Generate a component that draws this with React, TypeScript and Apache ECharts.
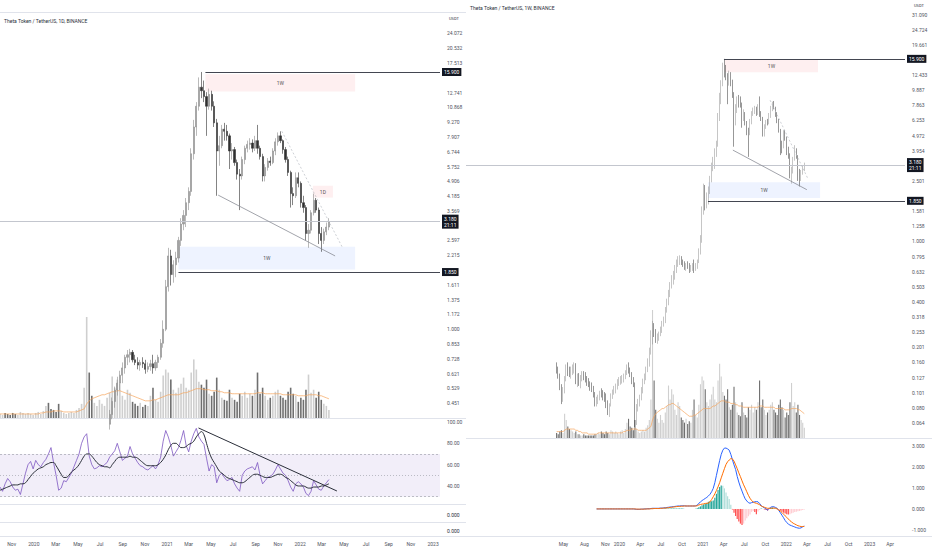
import React, { useEffect, useRef } from "react";
import * as echarts from "echarts";

// ---------- DATA ----------
const FIRST_WEEK = "2019-04-01";

// weekly candles [open, high, low, close]
const priceOHLC: number[][] = [
  // 2019
  [0.15, 0.16, 0.135, 0.14], [0.14, 0.15, 0.125, 0.128], [0.128, 0.135, 0.105, 0.11], [0.11, 0.115, 0.085, 0.092],
  [0.092, 0.11, 0.088, 0.105], [0.105, 0.13, 0.1, 0.125], [0.125, 0.155, 0.12, 0.145], [0.145, 0.16, 0.13, 0.138], [0.138, 0.15, 0.128, 0.135],
  [0.135, 0.15, 0.125, 0.14], [0.14, 0.155, 0.132, 0.145], [0.145, 0.16, 0.135, 0.15], [0.15, 0.158, 0.115, 0.12],
  [0.12, 0.135, 0.11, 0.128], [0.128, 0.136, 0.112, 0.118], [0.118, 0.132, 0.108, 0.125], [0.125, 0.14, 0.12, 0.132], [0.132, 0.14, 0.122, 0.128],
  [0.128, 0.138, 0.118, 0.124], [0.124, 0.13, 0.112, 0.12], [0.12, 0.126, 0.11, 0.114], [0.114, 0.12, 0.104, 0.11],
  [0.11, 0.118, 0.102, 0.106], [0.106, 0.112, 0.094, 0.098], [0.098, 0.102, 0.082, 0.087], [0.087, 0.095, 0.082, 0.09],
  [0.09, 0.098, 0.085, 0.093], [0.093, 0.104, 0.09, 0.1], [0.1, 0.108, 0.094, 0.098], [0.098, 0.105, 0.09, 0.096], [0.096, 0.102, 0.088, 0.094],
  [0.094, 0.1, 0.08, 0.085], [0.085, 0.09, 0.072, 0.078], [0.078, 0.086, 0.07, 0.084], [0.084, 0.1, 0.082, 0.098],
  [0.098, 0.106, 0.092, 0.102], [0.102, 0.112, 0.098, 0.108], [0.108, 0.116, 0.1, 0.112], [0.112, 0.124, 0.106, 0.118], [0.118, 0.128, 0.112, 0.12],
  // 2020
  [0.12, 0.13, 0.114, 0.122], [0.122, 0.132, 0.116, 0.125], [0.125, 0.135, 0.118, 0.128], [0.128, 0.142, 0.124, 0.138],
  [0.138, 0.155, 0.132, 0.148], [0.148, 0.16, 0.135, 0.14], [0.14, 0.148, 0.128, 0.132], [0.132, 0.138, 0.115, 0.12],
  [0.12, 0.128, 0.11, 0.115], [0.115, 0.118, 0.06, 0.068], [0.068, 0.085, 0.062, 0.08], [0.08, 0.092, 0.076, 0.085], [0.085, 0.098, 0.082, 0.092],
  [0.092, 0.11, 0.09, 0.105], [0.105, 0.125, 0.1, 0.12], [0.12, 0.135, 0.115, 0.128], [0.128, 0.15, 0.122, 0.145],
  [0.145, 0.17, 0.138, 0.16], [0.16, 0.2, 0.15, 0.19], [0.19, 0.26, 0.18, 0.235], [0.235, 0.3, 0.21, 0.265],
  [0.265, 0.29, 0.235, 0.25], [0.25, 0.265, 0.215, 0.228], [0.228, 0.248, 0.212, 0.235], [0.235, 0.255, 0.222, 0.245], [0.245, 0.275, 0.238, 0.26],
  [0.26, 0.3, 0.25, 0.29], [0.29, 0.32, 0.275, 0.3], [0.3, 0.37, 0.29, 0.36], [0.36, 0.42, 0.34, 0.4],
  [0.4, 0.48, 0.38, 0.46], [0.46, 0.54, 0.43, 0.52], [0.52, 0.6, 0.49, 0.56], [0.56, 0.64, 0.52, 0.61], [0.61, 0.7, 0.56, 0.66],
  [0.66, 0.76, 0.62, 0.74], [0.74, 0.8, 0.68, 0.76], [0.76, 0.81, 0.7, 0.78], [0.78, 0.8, 0.7, 0.72],
  [0.72, 0.76, 0.68, 0.7], [0.7, 0.74, 0.65, 0.68], [0.68, 0.72, 0.64, 0.7], [0.7, 0.74, 0.66, 0.69],
  [0.69, 0.72, 0.62, 0.65], [0.65, 0.7, 0.63, 0.67], [0.67, 0.72, 0.64, 0.69], [0.69, 0.76, 0.62, 0.66], [0.66, 0.72, 0.64, 0.7],
  [0.7, 0.76, 0.66, 0.74], [0.74, 0.9, 0.72, 0.86], [0.86, 1.1, 0.82, 1.0], [1.0, 1.7, 0.98, 1.58],
  // 2021
  [1.58, 2.4, 1.5, 2.2], [2.2, 2.35, 1.6, 1.8], [1.8, 2.1, 1.65, 2.0], [2.0, 2.3, 1.75, 2.15],
  [2.15, 2.7, 2.05, 2.6], [2.6, 3.3, 2.45, 3.1], [3.1, 3.6, 2.9, 3.4], [3.4, 4.1, 3.0, 3.9],
  [3.9, 4.6, 3.6, 4.4], [4.4, 7.0, 4.2, 6.6], [6.6, 9.5, 6.2, 8.8], [8.8, 11.5, 8.0, 11.0], [11.0, 15.0, 10.5, 13.5],
  [13.5, 15.9, 12.0, 13.0], [13.0, 14.5, 11.5, 12.2], [12.2, 12.8, 8.0, 11.0], [11.0, 13.3, 10.6, 12.5],
  [12.5, 13.0, 10.5, 11.0], [11.0, 11.6, 8.8, 9.2], [9.2, 9.6, 4.2, 6.8], [6.8, 8.0, 5.8, 7.2],
  [7.2, 9.0, 7.0, 8.6], [8.6, 9.2, 7.6, 8.4], [8.4, 9.0, 7.6, 8.0], [8.0, 8.2, 5.6, 6.8], [6.8, 7.4, 6.2, 6.9],
  [6.9, 7.1, 5.8, 6.0], [6.0, 6.2, 5.0, 5.3], [5.3, 5.6, 3.6, 5.2], [5.2, 6.4, 5.0, 6.2],
  [6.2, 7.2, 5.9, 7.0], [7.0, 7.6, 6.7, 7.3], [7.3, 7.8, 6.9, 7.4], [7.4, 7.7, 6.7, 7.0], [7.0, 8.0, 6.8, 7.6],
  [7.6, 9.0, 6.6, 7.0], [7.0, 7.2, 6.2, 6.4], [6.4, 6.6, 4.9, 5.2], [5.2, 5.9, 4.9, 5.7],
  [5.7, 6.3, 5.5, 6.1], [6.1, 6.4, 5.8, 6.0], [6.0, 7.0, 5.9, 6.8], [6.8, 7.8, 6.5, 7.5],
  [7.5, 8.3, 7.2, 8.0], [8.0, 8.4, 7.4, 7.6], [7.6, 7.7, 6.6, 6.9], [6.9, 7.1, 6.0, 6.2], [6.2, 6.4, 5.2, 5.4],
  [5.4, 5.5, 3.7, 4.3], [4.3, 4.6, 3.8, 4.2], [4.2, 5.4, 4.1, 5.1], [5.1, 5.4, 4.6, 4.8],
  // 2022
  [4.8, 4.9, 3.7, 3.9], [3.9, 4.2, 3.5, 3.7], [3.7, 3.8, 2.6, 2.8], [2.8, 3.1, 2.4, 2.9],
  [2.9, 3.6, 2.8, 3.5], [3.5, 4.3, 3.4, 4.0], [4.0, 4.1, 3.5, 3.6], [3.6, 3.7, 2.5, 2.8],
  [2.8, 3.0, 2.3, 2.6], [2.6, 2.95, 2.5, 2.85], [2.85, 3.15, 2.75, 3.0], [3.0, 3.3, 2.9, 3.18],
];

// weekly volume (millions, relative)
const volumes: number[] = [
  4, 3, 5, 6, 4, 19, 14, 9, 7, 6, 5, 4, 5, 3, 3, 2, 2, 3, 2, 2, 2, 2, 2, 2, 3, 3,
  4, 3, 5, 4, 3, 5, 4, 3, 6, 5, 4, 5, 4, 3, 5, 6, 4, 7, 12, 15, 9, 8, 6, 14, 7, 5, 4, 5, 6, 5, 8, 10, 14,
  30, 100, 45, 22, 15, 12, 18, 14, 12, 20, 25, 41, 30, 38, 34, 22, 18, 28, 25, 16, 14, 12, 15, 11, 13, 12, 22, 30, 18, 16,
  26, 42, 48, 45, 38, 28, 25, 30, 34, 40, 30, 28, 45, 58, 48, 36, 33, 30, 38, 24, 22, 26, 40, 28, 20, 18, 17, 28, 20, 18,
  16, 24, 22, 26, 20, 24, 22, 28, 45, 24, 30, 22, 18, 20, 22, 26, 28, 22, 20, 18, 26, 30, 24, 22, 16, 20, 18, 28, 43, 25,
  28, 20, 26, 18, 14, 12, 8,
];

const volumeMA: number[] = [
  5, 5, 5, 5, 5, 6, 7, 7, 7, 7, 7, 7, 6, 6, 5, 5, 4, 4, 4, 4, 3, 3, 3, 3, 3, 3,
  4, 4, 4, 4, 4, 4, 4, 4, 4, 4, 4, 4, 4, 4, 4, 4, 5, 5, 6, 6, 6, 7, 7, 7, 7, 6, 6, 6, 6, 6, 6, 7, 8,
  9, 14, 17, 19, 20, 21, 22, 23, 23, 24, 25, 26, 26, 27, 27, 26, 25, 24, 23, 22, 21, 20, 19, 18, 17, 17, 17, 18, 18, 19,
  20, 21, 22, 23, 23, 23, 23, 23, 24, 25, 25, 26, 27, 28, 29, 29, 29, 28, 28, 28, 27, 27, 27, 26, 26, 25, 25, 25, 24, 24,
  24, 24, 24, 24, 24, 24, 24, 24, 25, 25, 25, 24, 24, 24, 24, 24, 24, 24, 23, 23, 23, 23, 23, 23, 22, 22, 22, 22, 23, 23,
  23, 23, 22, 22, 21, 20, 19,
];

// RSI (left chart), weekly from RSI_START
const RSI_START = "2019-09-30";
const rsiValues: number[] = [
  39, 35, 42, 47, 44, 39, 36, 37, 32, 42,
  52, 60, 63, 56, 64, 60, 58, 62, 65, 70,
  76, 62, 50, 36, 38, 45, 44, 48, 52, 58,
  64, 70, 80, 86, 89, 68, 60, 56, 57, 59,
  58, 60, 62, 67, 70, 73, 80, 72, 64, 66,
  68, 77, 70, 66, 62, 59, 58, 56, 55, 57,
  59, 56, 60, 67, 82, 92, 86, 78, 68, 72,
  76, 83, 92, 78, 72, 82, 89, 94, 86, 82,
  79, 66, 54, 60, 58, 43, 50, 52, 48, 45,
  46, 48, 42, 38, 35, 50, 54, 56, 57, 58,
  55, 62, 50, 42, 45, 48, 49, 51, 55, 60,
  56, 52, 50, 45, 39, 35, 42, 44, 42, 39,
  33, 31, 35, 45, 41, 37, 36, 40, 43, 46,
];
const rsiMA: number[] = [
  36, 37, 38, 39, 40, 41, 41, 41, 42, 42,
  43, 46, 49, 52, 54, 56, 57, 58, 60, 61,
  62, 62, 59, 55, 51, 48, 48, 50, 53, 55,
  57, 60, 64, 68, 70, 70, 68, 65, 62, 60,
  59, 58, 58, 57, 60, 63, 66, 67, 67, 67,
  67, 68, 67, 67, 66, 64, 62, 60, 59, 59,
  59, 59, 60, 62, 65, 69, 74, 78, 80, 80,
  78, 76, 76, 77, 79, 80, 82, 86, 89, 91,
  88, 80, 72, 66, 62, 58, 54, 52, 50, 48,
  47, 46, 45, 44, 43, 43, 44, 46, 48, 50,
  51, 51, 50, 49, 48, 48, 48, 49, 50, 51,
  51, 50, 48, 47, 45, 43, 41, 40, 40, 40,
  39, 38, 38, 39, 39, 39, 40, 40, 41, 42,
];

// MACD (right chart), weekly from MACD_START
const MACD_START = "2019-09-23";
const macdLine: number[] = [
  0, 0, 0, 0, 0, 0, 0, 0, 0, 0, 0, 0, 0, 0, 0, 0, 0, 0, 0, 0, 0, 0, 0, 0,
  -0.01, -0.02, -0.02, -0.02, -0.01, -0.01, 0, 0, 0.01, 0.01, 0.02, 0.03, 0.03, 0.03, 0.03,
  0.03, 0.04, 0.04, 0.05, 0.06, 0.07, 0.08, 0.09, 0.1, 0.11, 0.12, 0.13, 0.14, 0.14, 0.15, 0.15, 0.15, 0.14, 0.14, 0.14, 0.14, 0.14, 0.14, 0.15, 0.18,
  0.27, 0.33, 0.4, 0.45, 0.5, 0.55, 0.62, 0.7, 0.82, 0.98, 1.25, 1.6, 1.95, 2.3, 2.6, 2.8, 2.9, 2.9, 2.86, 2.8,
  2.6, 2.35, 2.1, 1.88, 1.55, 1.28, 1.05, 0.85, 0.65, 0.48, 0.38, 0.3, 0.27, 0.3, 0.32, 0.34, 0.35, 0.34, 0.26, 0.16,
  0.1, 0.05, 0, -0.05, 0.02, 0.08, 0.11, 0.1, 0.07, 0.03, -0.07, -0.18, -0.3, -0.42, -0.55, -0.65, -0.72, -0.77, -0.8, -0.83,
  -0.86, -0.89, -0.91, -0.92, -0.9, -0.85, -0.82,
];
const signalLine: number[] = [
  0, 0, 0, 0, 0, 0, 0, 0, 0, 0, 0, 0, 0, 0, 0, 0, 0, 0, 0, 0, 0, 0, 0, 0,
  0, -0.01, -0.01, -0.01, -0.01, -0.01, -0.01, 0, 0, 0, 0.01, 0.01, 0.02, 0.02, 0.02,
  0.02, 0.03, 0.03, 0.04, 0.04, 0.05, 0.06, 0.07, 0.08, 0.09, 0.1, 0.11, 0.12, 0.12, 0.13, 0.13, 0.14, 0.14, 0.14, 0.14, 0.14, 0.14, 0.14, 0.14, 0.15,
  0.19, 0.21, 0.23, 0.24, 0.26, 0.27, 0.28, 0.34, 0.45, 0.58, 0.72, 0.88, 1.05, 1.25, 1.48, 1.7, 1.92, 2.12, 2.25, 2.33,
  2.4, 2.38, 2.28, 2.1, 1.92, 1.72, 1.54, 1.34, 1.15, 0.99, 0.82, 0.65, 0.51, 0.4, 0.33, 0.29, 0.27, 0.24, 0.2, 0.14,
  0.11, 0.08, 0.05, 0.03, 0.03, 0.03, 0.04, 0.04, 0.03, 0, -0.05, -0.1, -0.17, -0.25, -0.33, -0.4, -0.48, -0.56, -0.62, -0.68,
  -0.72, -0.76, -0.8, -0.82, -0.84, -0.84, -0.83,
];
const macdHist: number[] = [
  0, 0, 0, 0, 0, 0, 0, 0, 0, 0, 0, 0, 0, 0, 0, 0, 0, 0, 0, 0, 0, 0, 0, 0,
  0, -0.01, -0.01, -0.01, 0, 0, 0.01, 0, 0.01, 0.01, 0.01, 0.02, 0.01, 0.01, 0.01,
  0.01, 0.01, 0.01, 0.01, 0.02, 0.02, 0.02, 0.02, 0.02, 0.02, 0.02, 0.02, 0.02, 0.02, 0.02, 0.02, 0.01, 0, 0, 0, 0, 0, 0, 0.01, 0.03,
  0.08, 0.12, 0.17, 0.21, 0.24, 0.28, 0.34, 0.36, 0.37, 0.4, 0.53, 0.72, 0.9, 1.05, 1.12, 1.1, 0.98, 0.78, 0.61, 0.47,
  0.2, -0.03, -0.18, -0.34, -0.48, -0.6, -0.7, -0.76, -0.7, -0.55, -0.44, -0.35, -0.26, -0.14, -0.1, -0.15, -0.25, -0.12, -0.05, 0.02,
  0.01, -0.03, -0.05, -0.08, -0.01, 0.05, 0.07, 0.06, 0.04, 0.03, -0.02, -0.08, -0.13, -0.18, -0.22, -0.25, -0.26, -0.25, -0.21, -0.18,
  -0.15, -0.13, -0.11, -0.1, -0.08, -0.05, -0.03,
];

// tick labels
const leftTickDates = [
  "2019-11-01", "2020-01-01", "2020-03-01", "2020-05-01", "2020-07-01", "2020-09-01", "2020-11-01",
  "2021-01-01", "2021-03-01", "2021-05-01", "2021-07-01", "2021-09-01", "2021-11-01",
  "2022-01-01", "2022-03-01", "2022-05-01", "2022-07-01", "2022-09-01", "2022-11-01", "2023-01-01",
];
const rightTickDates = [
  "2019-05-01", "2019-08-01", "2019-11-01", "2020-01-01", "2020-04-01", "2020-07-01", "2020-10-01",
  "2021-01-01", "2021-04-01", "2021-07-01", "2021-10-01", "2022-01-01", "2022-04-01", "2022-07-01",
  "2022-10-01", "2023-01-01", "2023-04-01",
];
const MONTHS = ["Jan", "Feb", "Mar", "Apr", "May", "Jun", "Jul", "Aug", "Sep", "Oct", "Nov", "Dec"];
const rsiTicks = [100, 80, 60, 40];
const macdTicks = [3, 2, 1, 0, -1];

// price levels / drawings
const ATH = 15.9;
const LAST = 3.18;
const SUPPORT = 1.85;
const COUNTDOWN = "21:11";
const leftZones = [
  { from: "2021-04-16", to: "2022-06-01", low: 12.9, high: 15.5, kind: "sell", text: "1W" },
  { from: "2021-02-01", to: "2022-06-01", low: 1.9, high: 2.43, kind: "buy", text: "1W" },
  { from: "2022-02-05", to: "2022-04-01", low: 4.12, high: 4.68, kind: "sell", text: "1D" },
];
const rightZones = [
  { from: "2021-04-07", to: "2022-05-20", low: 13.0, high: 15.6, kind: "sell", text: "1W" },
  { from: "2021-01-23", to: "2022-05-29", low: 1.93, high: 2.45, kind: "buy", text: "1W" },
];
const leftLevels = { athFrom: "2021-04-16", supportFrom: "2021-02-01" };
const rightLevels = { athFrom: "2021-04-03", supportFrom: "2021-01-23" };
const leftWedge = {
  lower: [["2021-05-21", 4.23], ["2022-04-07", 2.2]],
  upper: [["2021-11-12", 8.4], ["2022-04-26", 2.43]],
};
const rightWedge = {
  lower: [["2021-05-12", 3.99], ["2022-04-01", 2.19]],
  upper: [["2021-10-22", 8.5], ["2022-04-05", 2.6]],
};
const rsiTrend = [["2021-03-28", 94.4], ["2022-04-12", 35.3]];

// ---------- HELPERS ----------
const DAY = 86400000;
const WEEK = 7 * DAY;
const ts = (s: string) => Date.parse(s + "T00:00:00Z");
const TXT = "#50535e";
const FONT = "Roboto, 'Noto Sans', sans-serif";
const UP = "#a3a3a3";
const DOWN = "#303030";
const VOL_UP = "#cfcfcf";
const VOL_DOWN = "#6f6f6f";
const PINK = "rgba(242,54,69,0.08)";
const BLUE = "rgba(41,98,255,0.08)";
const SEP = "#e0e3eb";

const L_MIN = ts("2019-09-30");
const L_MAX = ts("2023-01-20");
const R_MIN = ts("2018-02-28");
const R_MAX = ts("2023-06-05");

const L_BASE = 1.1724;
const L_MIN_EXP = -6;
const L_MAXV = 29.98;
const R_BASE = 1.2575;
const R_MIN_EXP = -13;
const R_MAXV = 38.79;

const fmtMonth = (v: number) => {
  const d = new Date(v);
  const m = d.getUTCMonth();
  return m === 0 ? String(d.getUTCFullYear()) : MONTHS[m];
};

function buildOption() {
  const t0 = ts(FIRST_WEEK);
  const weekTs = priceOHLC.map((_, k) => t0 + k * WEEK);
  const candles = priceOHLC.map(([o, h, l, c], k) => [weekTs[k], o, c, l, h]);
  const vol = volumes.map((v, k) => ({
    value: [weekTs[k], v],
    itemStyle: { color: priceOHLC[k] && priceOHLC[k][3] >= priceOHLC[k][0] ? VOL_UP : VOL_DOWN },
  }));
  const volMA = volumeMA.map((v, k) => [weekTs[k], v]);
  const rT = ts(RSI_START);
  const rsi = rsiValues.map((v, k) => [rT + k * WEEK, v]);
  const rsiM = rsiMA.map((v, k) => [rT + k * WEEK, v]);
  const mT = ts(MACD_START);
  const macd = macdLine.map((v, k) => [mT + k * WEEK, v]);
  const sig = signalLine.map((v, k) => [mT + k * WEEK, v]);
  const hist = macdHist.map((v, k) => {
    const prev = k > 0 ? macdHist[k - 1] : 0;
    const color = v >= 0 ? (v >= prev ? "#26a69a" : "#b2dfdb") : v <= prev ? "#ff5252" : "#ffcdd2";
    return { value: [mT + k * WEEK, v], itemStyle: { color } };
  });

  const tag = (text: string) => ({
    show: true,
    position: "end",
    formatter: text,
    color: "#fff",
    backgroundColor: "#131722",
    padding: [1, 2, 1, 2],
    fontSize: 5,
    fontFamily: FONT,
    distance: 2,
    lineHeight: 6,
  });

  const priceMarks = (zones: any[], lv: any, wedge: any, minT: number, maxT: number) => ({
    markArea: {
      silent: true,
      data: zones.map((z) => [
        {
          coord: [ts(z.from), z.low],
          itemStyle: { color: z.kind === "sell" ? PINK : BLUE },
          label: { show: true, position: "inside", formatter: z.text, fontSize: 5, color: "#555", fontFamily: FONT },
        },
        { coord: [ts(z.to), z.high] },
      ]),
    },
    markLine: {
      silent: true,
      symbol: ["none", "none"],
      data: [
        [
          { coord: [ts(lv.athFrom), ATH], lineStyle: { color: "#434651", width: 1, type: "solid" }, label: tag(ATH.toFixed(3)) },
          { coord: [maxT, ATH] },
        ],
        [
          { coord: [minT, LAST], lineStyle: { color: "#c3c6ce", width: 1, type: "solid" }, label: tag(LAST.toFixed(3) + "\n" + COUNTDOWN) },
          { coord: [maxT, LAST] },
        ],
        [
          { coord: [ts(lv.supportFrom), SUPPORT], lineStyle: { color: "#434651", width: 1, type: "solid" }, label: tag(SUPPORT.toFixed(3)) },
          { coord: [maxT, SUPPORT] },
        ],
        [
          { coord: [ts(wedge.lower[0][0]), wedge.lower[0][1]], lineStyle: { color: "#8a8d96", width: 0.8, type: "solid" }, label: { show: false } },
          { coord: [ts(wedge.lower[1][0]), wedge.lower[1][1]] },
        ],
        [
          { coord: [ts(wedge.upper[0][0]), wedge.upper[0][1]], lineStyle: { color: "#b8bbc3", width: 0.7, type: [2, 2] }, label: { show: false } },
          { coord: [ts(wedge.upper[1][0]), wedge.upper[1][1]] },
        ],
      ],
    },
  });

  const hiddenAxis = { axisLine: { show: false }, axisTick: { show: false }, splitLine: { show: false }, axisLabel: { show: false } };
  const timeAxis = (gridIndex: number, min: number, max: number, ticks?: string[]) => ({
    type: "value",
    gridIndex,
    min,
    max,
    axisLine: { show: false },
    axisTick: { show: false },
    splitLine: { show: false },
    axisPointer: { show: false },
    axisLabel: ticks
      ? {
          show: true,
          customValues: ticks.map(ts),
          formatter: fmtMonth,
          fontSize: 5,
          color: TXT,
          fontFamily: FONT,
          margin: 5,
          hideOverlap: false,
          showMinLabel: true,
          showMaxLabel: true,
        }
      : { show: false },
  });
  // labels hidden where a price tag sits on the axis (as TradingView does)
  const logAxis = (gridIndex: number, base: number, minExp: number, maxV: number, tol: number, topCut: number) => ({
    type: "log",
    gridIndex,
    position: "right",
    logBase: base,
    min: Math.pow(base, minExp),
    max: maxV,
    interval: 1,
    axisLine: { show: false },
    axisTick: { show: false },
    splitLine: { show: false },
    axisLabel: {
      fontSize: 5,
      color: TXT,
      fontFamily: FONT,
      margin: 7,
      showMinLabel: false,
      showMaxLabel: false,
      formatter: (v: number) => {
        if (v > topCut) return "";
        const lv = Math.log(v);
        if (Math.abs(lv - Math.log(ATH)) < tol) return "";
        if (Math.abs(lv - Math.log(SUPPORT)) < tol) return "";
        const d = lv - Math.log(LAST);
        if (d < tol && d > -tol * 1.5) return "";
        return v.toFixed(3);
      },
    },
  });

  const sepLines = [
    [0, 12.5, 466, 12.5],
    [0, 418.5, 466, 418.5],
    [0, 504.5, 466, 504.5],
    [0, 522.5, 466, 522.5],
    [0, 536.5, 466, 536.5],
    [466, 438.5, 932, 438.5],
    [466, 536.5, 932, 536.5],
  ];
  const texts = [
    { x: 4, y: 18, text: "Theta Token / TetherUS, 1D, BINANCE", size: 5 },
    { x: 470, y: 5, text: "Theta Token / TetherUS, 1W, BINANCE", size: 5 },
    { x: 449, y: 16, text: "USDT", size: 4 },
    { x: 914, y: 3, text: "USDT", size: 4 },
    { x: 447, y: 512, text: "0.000", size: 5 },
    { x: 447, y: 528, text: "0.000", size: 5 },
  ];

  return {
    animation: false,
    backgroundColor: "#ffffff",
    textStyle: { fontFamily: FONT },
    grid: [
      { left: 0, top: 13, width: 440, height: 405 },
      { left: 0, top: 317, width: 440, height: 101 },
      { left: 0, top: 419, width: 440, height: 85 },
      { left: 0, top: 504, width: 440, height: 32 },
      { left: 466, top: 0, width: 439, height: 438 },
      { left: 466, top: 310, width: 439, height: 128 },
      { left: 466, top: 438, width: 439, height: 98 },
    ],
    xAxis: [
      timeAxis(0, L_MIN, L_MAX),
      timeAxis(1, L_MIN, L_MAX),
      timeAxis(2, L_MIN, L_MAX),
      timeAxis(3, L_MIN, L_MAX, leftTickDates),
      timeAxis(4, R_MIN, R_MAX),
      timeAxis(5, R_MIN, R_MAX),
      timeAxis(6, R_MIN, R_MAX, rightTickDates),
    ],
    yAxis: [
      logAxis(0, L_BASE, L_MIN_EXP, L_MAXV, 0.085, 26),
      { type: "value", gridIndex: 1, min: 0, max: 100, ...hiddenAxis },
      {
        type: "value",
        gridIndex: 2,
        position: "right",
        min: 23.1,
        max: 102.8,
        axisLine: { show: false },
        axisTick: { show: false },
        splitLine: { show: false },
        axisLabel: { customValues: rsiTicks, formatter: (v: number) => v.toFixed(2), fontSize: 5, color: TXT, margin: 7, fontFamily: FONT },
      },
      { type: "value", gridIndex: 3, min: 0, max: 1, ...hiddenAxis },
      logAxis(4, R_BASE, R_MIN_EXP, R_MAXV, 0.12, 100),
      { type: "value", gridIndex: 5, min: 0, max: 100, ...hiddenAxis },
      {
        type: "value",
        gridIndex: 6,
        position: "right",
        min: -1.29,
        max: 3.38,
        axisLine: { show: false },
        axisTick: { show: false },
        splitLine: { show: false },
        axisLabel: { customValues: macdTicks, formatter: (v: number) => v.toFixed(3), fontSize: 5, color: TXT, margin: 7, fontFamily: FONT },
      },
    ],
    series: [
      {
        type: "candlestick",
        xAxisIndex: 0,
        yAxisIndex: 0,
        data: candles,
        encode: { x: 0, y: [1, 2, 3, 4] },
        barWidth: 1.7,
        clip: true,
        z: 3,
        itemStyle: { color: UP, color0: DOWN, borderColor: "#8c8c8c", borderColor0: DOWN, borderWidth: 0.6 },
        ...priceMarks(leftZones, leftLevels, leftWedge, L_MIN, L_MAX),
      },
      { type: "bar", xAxisIndex: 1, yAxisIndex: 1, data: vol, barWidth: 1.6, z: 1 },
      {
        type: "line",
        xAxisIndex: 1,
        yAxisIndex: 1,
        data: volMA,
        showSymbol: false,
        z: 2,
        lineStyle: { color: "#f7a65e", width: 0.8, opacity: 0.9 },
      },
      {
        type: "line",
        xAxisIndex: 2,
        yAxisIndex: 2,
        data: rsi,
        showSymbol: false,
        lineStyle: { color: "#7e57c2", width: 0.8 },
        markArea: { silent: true, itemStyle: { color: "rgba(126,87,194,0.1)" }, data: [[{ yAxis: 30 }, { yAxis: 70 }]] },
        markLine: {
          silent: true,
          symbol: ["none", "none"],
          label: { show: false },
          data: [
            { yAxis: 70, lineStyle: { color: "#9598a1", width: 0.6, type: [2, 2] } },
            { yAxis: 50, lineStyle: { color: "#9598a1", width: 0.6, type: [1, 2] } },
            { yAxis: 30, lineStyle: { color: "#9598a1", width: 0.6, type: [2, 2] } },
            [
              { coord: [ts(rsiTrend[0][0] as string), rsiTrend[0][1]], lineStyle: { color: "#2a2e39", width: 1, type: "solid" } },
              { coord: [ts(rsiTrend[1][0] as string), rsiTrend[1][1]] },
            ],
          ],
        },
      },
      {
        type: "line",
        xAxisIndex: 2,
        yAxisIndex: 2,
        data: rsiM,
        showSymbol: false,
        smooth: 0.4,
        lineStyle: { color: "#2a2e39", width: 1 },
      },
      {
        type: "candlestick",
        xAxisIndex: 4,
        yAxisIndex: 4,
        data: candles,
        encode: { x: 0, y: [1, 2, 3, 4] },
        barWidth: 1.1,
        clip: true,
        z: 3,
        itemStyle: { color: UP, color0: DOWN, borderColor: "#8c8c8c", borderColor0: DOWN, borderWidth: 0.5 },
        ...priceMarks(rightZones, rightLevels, rightWedge, R_MIN, R_MAX),
      },
      { type: "bar", xAxisIndex: 5, yAxisIndex: 5, data: vol, barWidth: 1.1, z: 1 },
      {
        type: "line",
        xAxisIndex: 5,
        yAxisIndex: 5,
        data: volMA,
        showSymbol: false,
        z: 2,
        lineStyle: { color: "#f7a65e", width: 0.8, opacity: 0.9 },
      },
      { type: "bar", xAxisIndex: 6, yAxisIndex: 6, data: hist, barWidth: 1.2 },
      { type: "line", xAxisIndex: 6, yAxisIndex: 6, data: macd, showSymbol: false, lineStyle: { color: "#2962ff", width: 1 } },
      { type: "line", xAxisIndex: 6, yAxisIndex: 6, data: sig, showSymbol: false, lineStyle: { color: "#ff6d00", width: 1 } },
    ],
    graphic: [
      ...sepLines.map(([x1, y1, x2, y2]) => ({
        type: "line",
        silent: true,
        shape: { x1, y1, x2, y2 },
        style: { stroke: SEP, lineWidth: 1 },
      })),
      ...texts.map((t) => ({
        type: "text",
        silent: true,
        x: t.x,
        y: t.y,
        style: { text: t.text, fontSize: t.size, fill: "#2a2e39", fontFamily: FONT },
      })),
    ],
  };
}

export default function App() {
  const ref = useRef<HTMLDivElement>(null);
  useEffect(() => {
    if (!ref.current) return;
    const chart = echarts.init(ref.current, null, { renderer: "svg" });
    chart.setOption(buildOption() as any);
    return () => chart.dispose();
  }, []);
  return (
    <div
      ref={ref}
      style={{ position: "fixed", left: 0, top: 0, width: 932, height: 550, background: "#fff" }}
    />
  );
}
